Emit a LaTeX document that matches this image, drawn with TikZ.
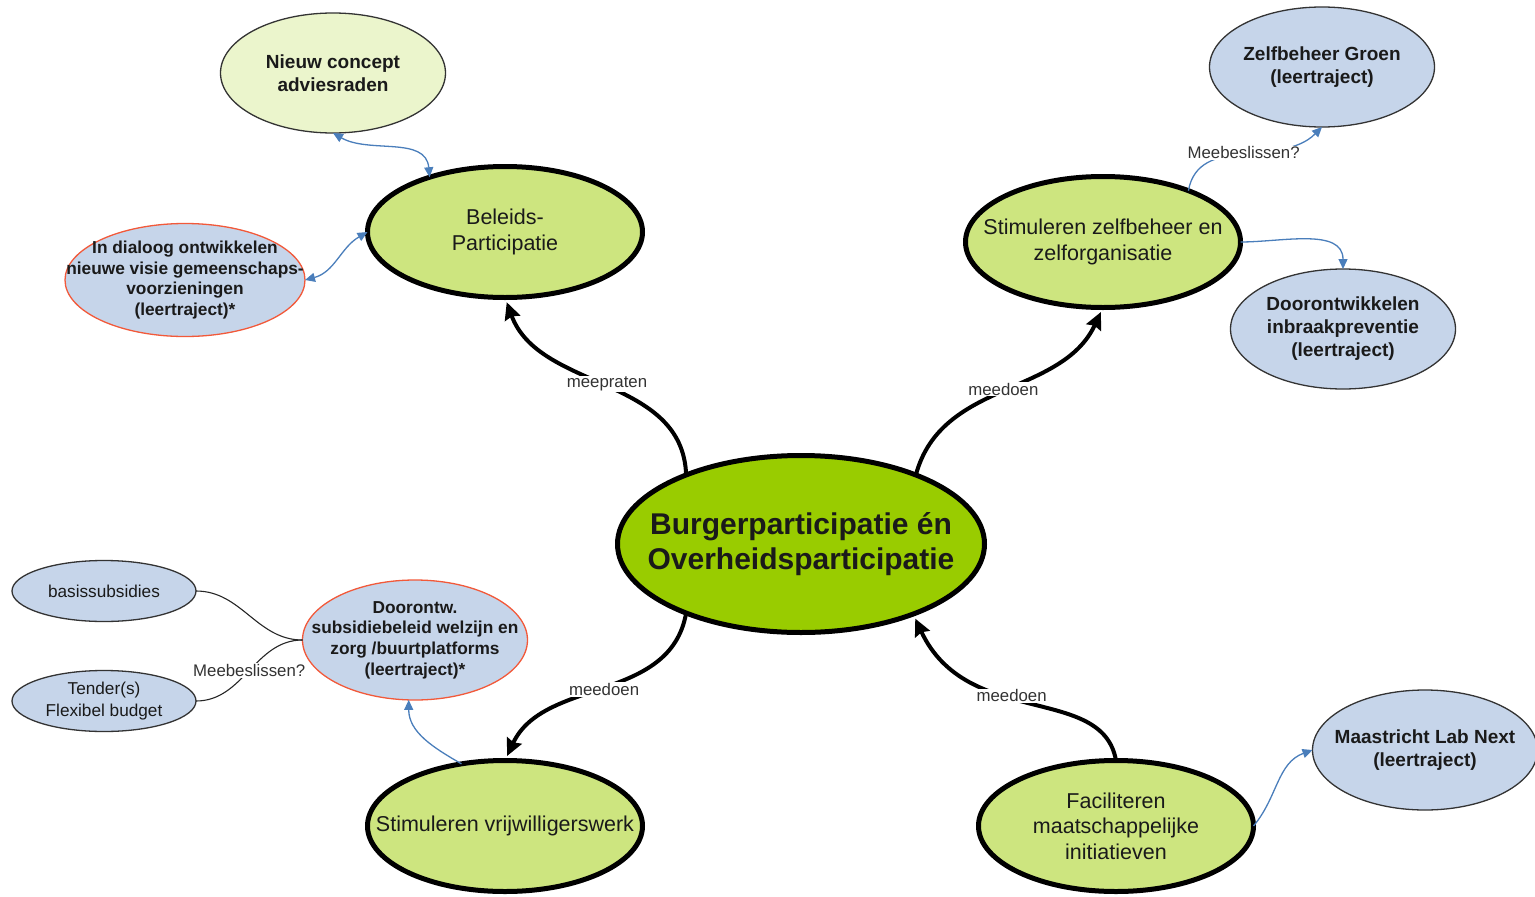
\documentclass[tikz,border=0pt]{standalone}
\usepackage{fontspec}
\setmainfont{Liberation Sans}
\usetikzlibrary{arrows.meta,shapes.geometric}
\definecolor{cgreen}{HTML}{99CC00}
\definecolor{lgreen}{HTML}{CDE57F}
\definecolor{pgreen}{HTML}{EBF5CC}
\definecolor{lblue}{HTML}{C6D5EA}
\definecolor{redb}{HTML}{F2593A}
\definecolor{barrow}{HTML}{4A7EBB}
\definecolor{txt}{HTML}{1A1A1A}
\definecolor{lbltxt}{HTML}{333333}
\begin{document}
\begin{tikzpicture}[x=1pt,y=-1pt,
  shapebase/.style={ellipse, inner sep=0pt, outer sep=0pt},
  mainnode/.style={shapebase, draw=black, line width=5pt, fill=lgreen, minimum width=275pt, minimum height=131pt},
  centernode/.style={mainnode, fill=cgreen, minimum width=367pt, minimum height=177pt},
  subnode/.style={shapebase, draw=black!80, line width=1.3pt, fill=lblue, minimum width=225pt, minimum height=120pt},
  rednode/.style={subnode, draw=redb},
  smallnode/.style={subnode, minimum width=184pt, minimum height=61pt},
  maintext/.style={align=center, inner sep=0pt, text=txt, font=\fontsize{21.5}{25.5}\selectfont},
  centertext/.style={maintext, font=\bfseries\fontsize{30}{35.5}\selectfont},
  subtext/.style={align=center, inner sep=0pt, text=txt, font=\bfseries\fontsize{19}{23}\selectfont},
  redtext/.style={subtext, font=\bfseries\fontsize{17.3}{20.7}\selectfont},
  smalltext/.style={subtext, font=\fontsize{17.2}{21.5}\selectfont},
  bigarrow/.style={line width=4pt, shorten >=5pt, -{Stealth[length=17pt,width=16pt,inset=2pt]}},
  bluearrow/.style={draw=barrow, line width=1.3pt, -{Triangle[length=10pt,width=9pt]}},
  bluedouble/.style={draw=barrow, line width=1.3pt, {Triangle[length=10pt,width=9pt]}-{Triangle[length=10pt,width=9pt]}},
  thinline/.style={draw=black!85, line width=1.1pt},
  lbl/.style={fill=white, inner sep=1pt, text=lbltxt, font=\fontsize{16.8}{19}\selectfont}
]
\useasboundingbox (0,0) rectangle (1535,897);

\node[centernode, label={[centertext]center:{Burgerparticipatie én\\Overheidsparticipatie}}] (c) at (801,544) {};
\node[mainnode, label={[maintext]center:{Beleids-\\Participatie}}] (bel) at (505,232) {};
\node[mainnode, label={[maintext]center:{Stimuleren zelfbeheer en\\zelforganisatie}}] (zelf) at (1103,242) {};
\node[mainnode, label={[maintext]center:{Stimuleren vrijwilligerswerk}}] (vrij) at (505,826) {};
\node[mainnode, label={[maintext]center:{Faciliteren\\maatschappelijke\\initiatieven}}] (fac) at (1116,826) {};

\node[subnode, fill=pgreen, label={[subtext]center:{Nieuw concept\\adviesraden}}] (nieuw) at (333,73) {};
\node[rednode, minimum width=240pt, minimum height=113pt, label={[redtext]center:{In dialoog ontwikkelen\\nieuwe visie gemeenschaps-\\voorzieningen\\(leertraject)*}}] (dia) at (185,280) {};
\node[subnode, label={[subtext]center:{Zelfbeheer Groen\\(leertraject)}}] (groen) at (1322,67) {};
\node[subnode, label={[subtext]center:{Doorontwikkelen\\inbraakpreventie\\(leertraject)}}] (inbr) at (1343,329) {};
\node[subnode, label={[subtext]center:{Maastricht Lab Next\\(leertraject)}}] (lab) at (1425,750) {};
\node[rednode, label={[redtext]center:{Doorontw.\\subsidiebeleid welzijn en\\zorg /buurtplatforms\\(leertraject)*}}] (subs) at (415,640) {};
\node[smallnode, label={[smalltext]center:{basissubsidies}}] (basis) at (104,591) {};
\node[smallnode, label={[smalltext]center:{Tender(s)\\Flexibel budget}}] (tender) at (104,701) {};

% main connectors
\draw[bigarrow] (c.149) to[out=92,in=-70] node[lbl]{meepraten} (bel.south);
\draw[bigarrow] (c.31) to[out=75,in=-115] node[lbl]{meedoen} (zelf.south);
\draw[bigarrow] (c.-149) to[out=-100,in=65] node[lbl]{meedoen} (vrij.north);
\draw[bigarrow] (fac.north) to[out=100,in=-65,out looseness=0.8,in looseness=1.3] node[lbl,pos=0.57]{meedoen} (c.-32);

% blue connectors
\draw[bluedouble] (nieuw.south) to[out=-30,in=95] (bel.144);
\draw[bluedouble] (dia.east) to[out=15,in=-150] (bel.west);
\draw[bluearrow] (zelf.31) to[out=80,in=-135] node[lbl]{Meebeslissen?} (groen.south);
\draw[bluearrow] (zelf.east) to[out=0,in=90] (inbr.north);
\draw[bluearrow] (vrij.125) to[out=150,in=-90] (subs.-96);
\draw[bluearrow] (fac.east) to[out=50,in=200] (lab.west);

% black thin connectors
\draw[thinline] (basis.east) to[out=0,in=180] (subs.west);
\draw[thinline] (tender.east) to[out=0,in=180] node[lbl]{Meebeslissen?} (subs.west);
\end{tikzpicture}
\end{document}
